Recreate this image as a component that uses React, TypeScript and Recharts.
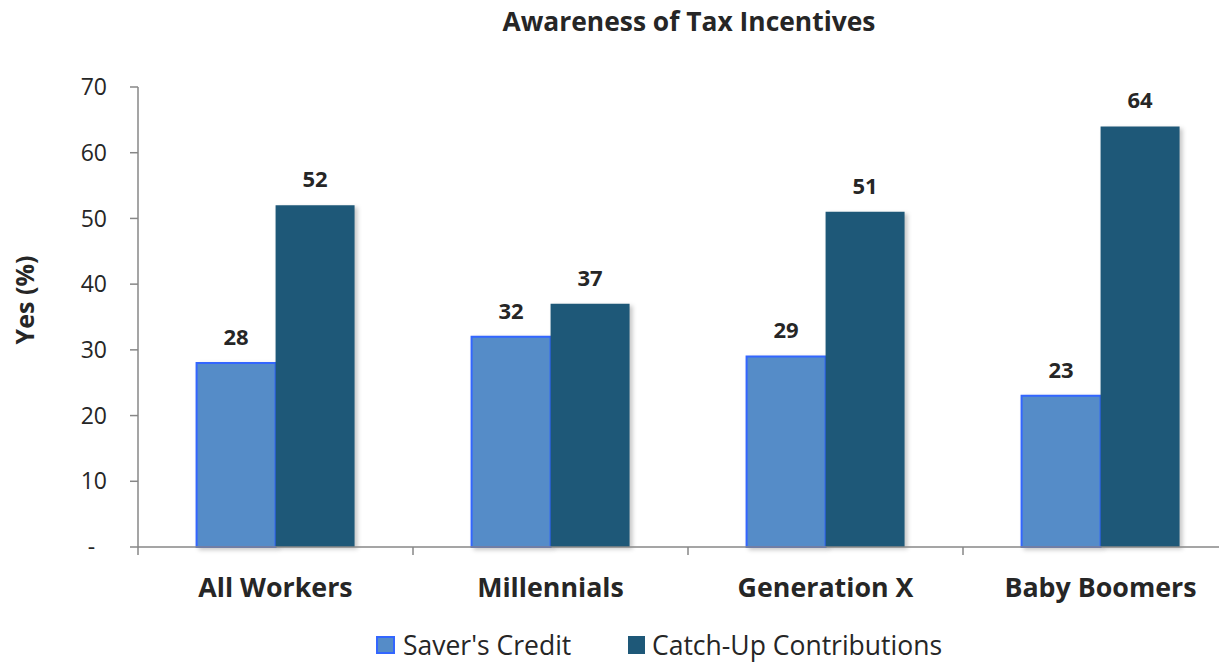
import { BarChart, Bar, XAxis, YAxis, LabelList, Rectangle } from "recharts";

const groups = ["All Workers", "Millennials", "Generation X", "Baby Boomers"];
const saversCredit = [28, 32, 29, 23];
const catchUp = [52, 37, 51, 64];
const yTicks = [0, 10, 20, 30, 40, 50, 60, 70];

const data = groups.map((g, i) => ({
  group: g,
  saver: saversCredit[i],
  catchup: catchUp[i],
}));

const CHART_W = 1240;
const CHART_H = 664;
const Y_AXIS_W = 138;
const MARGIN = { top: 87, right: 2, left: 0, bottom: 0 };
const BAND = (CHART_W - Y_AXIS_W - MARGIN.right) / groups.length;

const FONT = "'Open Sans', sans-serif";
const TEXT = "#262626";
const AXIS = "#878787";

const SAVER = "#558cc8";
const SAVER_EDGE = "#3366ff";
const CATCH = "#1e5878";

// x ticks sit on the category boundaries, labels in the middle
function GroupTick(props: any) {
  const { x, y, payload } = props;
  const axisY = y - 31;
  const left = x - BAND / 2;
  return (
    <g>
      <line x1={left} x2={left} y1={axisY} y2={axisY + 8} stroke={AXIS} strokeWidth={1.5} />
      <text
        x={x}
        y={y}
        dy="0.71em"
        textAnchor="middle"
        fill={TEXT}
        fontFamily={FONT}
        fontWeight="bold"
        fontSize={26.8}
      >
        {payload.value}
      </text>
    </g>
  );
}

function YTitle() {
  return (
    <text
      x={34}
      y={300}
      transform="rotate(-90 34 300)"
      textAnchor="middle"
      fill={TEXT}
      fontFamily={FONT}
      fontWeight="bold"
      fontSize={25}
    >
      Yes (%)
    </text>
  );
}

const shadowBar = (props: any) => (
  <Rectangle {...props} style={{ filter: "drop-shadow(3px 2px 2px rgba(0,0,0,0.22))" }} />
);

const legendItem = {
  position: "absolute" as const,
  top: 632,
  height: 26,
  display: "flex",
  alignItems: "center",
  fontSize: 26.5,
  lineHeight: 1,
  color: TEXT,
  whiteSpace: "nowrap" as const,
};

export default function App() {
  return (
    <div
      style={{
        position: "fixed",
        left: 0,
        top: 0,
        width: 1219,
        height: 664,
        overflow: "hidden",
        background: "#fff",
        fontFamily: FONT,
      }}
    >
      <div
        style={{
          position: "absolute",
          left: 0,
          top: 3,
          width: 1378,
          textAlign: "center",
          fontSize: 26.4,
          fontWeight: "bold",
          color: TEXT,
        }}
      >
        Awareness of Tax Incentives
      </div>

      <BarChart
        width={CHART_W}
        height={CHART_H}
        data={data}
        margin={MARGIN}
        barGap={0}
        barCategoryGap="21.3%"
      >
        <XAxis
          dataKey="group"
          height={117}
          stroke={AXIS}
          strokeWidth={1.5}
          tickLine={false}
          tickSize={8}
          tickMargin={23}
          interval={0}
          tick={<GroupTick />}
        />
        <YAxis
          width={Y_AXIS_W}
          domain={[0, 70]}
          ticks={yTicks}
          interval={0}
          stroke={AXIS}
          strokeWidth={1.5}
          tickSize={8}
          tickMargin={23}
          tick={{ fill: TEXT, fontSize: 23, fontFamily: FONT }}
          tickFormatter={(v: number) => (v === 0 ? "-\u00a0\u00a0" : String(v))}
          label={<YTitle />}
        />
        <Bar
          dataKey="saver"
          fill={SAVER}
          stroke={SAVER_EDGE}
          strokeWidth={2}
          shape={shadowBar}
          isAnimationActive={false}
        >
          <LabelList
            dataKey="saver"
            position="top"
            offset={18}
            fill={TEXT}
            fontFamily={FONT}
            fontWeight="bold"
            fontSize={22}
          />
        </Bar>
        <Bar dataKey="catchup" fill={CATCH} shape={shadowBar} isAnimationActive={false}>
          <LabelList
            dataKey="catchup"
            position="top"
            offset={18}
            fill={TEXT}
            fontFamily={FONT}
            fontWeight="bold"
            fontSize={22}
          />
        </Bar>
      </BarChart>

      <div style={{ ...legendItem, left: 376 }}>
        <span style={{ width: 15, height: 14, background: SAVER, border: `2px solid ${SAVER_EDGE}`, marginRight: 8 }} />
        Saver's Credit
      </div>
      <div style={{ ...legendItem, left: 628 }}>
        <span style={{ width: 17, height: 18, background: CATCH, marginRight: 7 }} />
        Catch-Up Contributions
      </div>
    </div>
  );
}
